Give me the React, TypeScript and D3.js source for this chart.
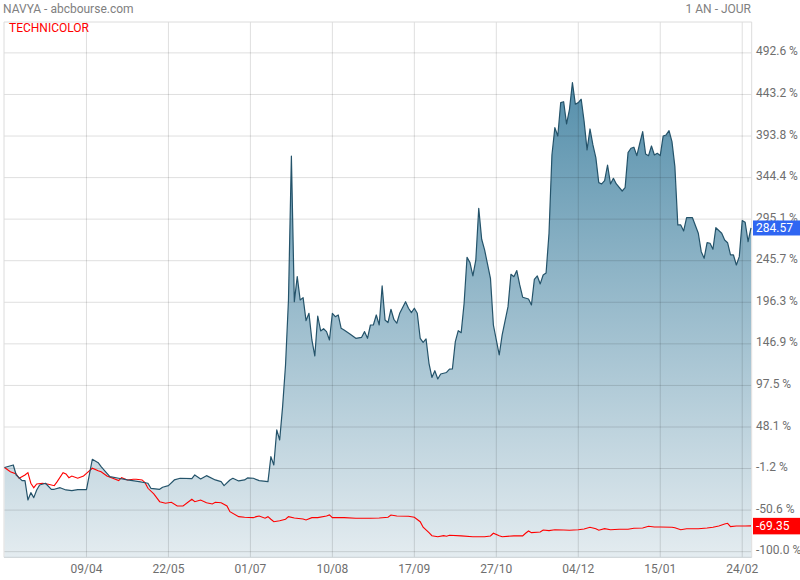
import React from "react";
import * as d3 from "d3";

// ---- DATA (trading-day index, % change) ----
const navyaDay = [0,3,4,6,7,8,9,10,11,12,14,16,17,19,21,23,25,28,30,32,33,35,36,39,42,46,49,50,53,54,56,58,60,64,65,67,69,72,74,75,77,78,80,82,83,85,87,90,91,92,93,94,95,96,97,98,99,100,101,102,103,104,105,106,107,108,109,110,111,112,113,114,115,116,118,120,122,123,124,125,126,127,128,129,130,131,132,133,134,135,137,138,139,140,141,142,143,144,145,146,147,148,149,151,152,153,154,155,156,157,158,159,160,161,162,163,164,166,167,169,170,172,173,174,175,176,177,179,180,181,182,183,184,185,186,187,188,189,190,191,192,193,194,195,196,197,198,199,200,201,202,203,204,205,206,207,208,209,211,212,213,214,215,216,217,218,219,220,221,222,223,224,225,226,227,228,229,230,231,232,233,235,237,238,239,240,241,242,243,245,246,247,248,249,250,251,252,253,254,255];
const navyaPct = [0,3.0,-8.9,-15.6,-15.6,-38.6,-29.9,-35.8,-26.7,-20.8,-18.7,-25.9,-25.9,-24.0,-26.7,-27.5,-26.3,-26.3,9.8,5.7,1.0,-6.9,-10.9,-12.8,-14.8,-16.8,-18.7,-24.7,-25.9,-23.5,-21.6,-14.8,-12.8,-13.3,-8.9,-13.6,-9.7,-14.8,-16.8,-21.6,-14.8,-12.8,-16.0,-14.8,-12.4,-12.8,-15.6,-16.8,12.9,3.0,44.6,32.7,72.3,121.8,199.0,370.1,197.0,226.7,199.0,201.8,174.5,183.2,151.5,132.5,180.0,162.2,164.9,161.4,151.5,183.2,179.2,181.2,165.4,163.4,158.7,153.5,154.7,161.4,153.5,169.3,169.3,181.2,169.3,215.7,175.3,172.1,188.0,176.1,171.4,183.2,197.0,189.2,184.0,189.2,183.2,153.5,148.6,152.7,123.8,107.0,115.0,105.2,111.1,112.9,116.8,117.0,149.5,162.6,160.2,195.1,249.8,243.4,227.6,246.6,308.0,271.2,258.5,224.8,169.3,133.7,157.5,191.1,229.6,226.7,233.9,216.9,202.3,200.2,193.1,223.6,227.6,218.1,228.7,231.1,278.3,371.3,403.8,393.9,433.5,434.6,408.2,425.6,457.2,431.6,433.5,437.5,410.9,377.3,402.2,383.2,368.1,338.4,336.9,340.8,359.4,336.9,343.6,336.9,328.5,332.5,374.1,379.3,380.5,370.5,385.2,399.0,372.5,370.5,382.0,371.3,373.3,370.5,393.9,395.1,400.2,387.1,357.4,288.2,288.2,281.0,296.8,296.8,278.3,256.4,248.6,267.1,266.4,259.3,284.9,278.3,270.3,267.1,252.5,252.5,240.6,250.5,293.3,291.4,268.3,284.57];

const techDay = [0,2,4,5,7,8,9,10,11,13,15,17,18,20,21,22,23,25,27,28,30,32,33,35,37,39,40,42,44,45,47,48,49,51,53,55,57,59,61,64,65,67,69,71,72,74,76,77,80,82,85,86,87,89,90,91,92,94,96,97,99,102,103,105,107,110,111,112,116,120,125,128,131,132,134,138,140,142,143,145,146,148,150,151,152,156,160,164,166,167,169,170,174,177,178,179,180,182,183,184,186,188,191,193,196,198,200,202,203,205,207,210,213,215,218,220,222,224,228,229,231,233,237,240,242,244,246,247,248,250,253,255];
const techPct = [0,-5.0,-7.7,-12.8,-8.9,-6.1,-18.7,-24.0,-19.6,-18.7,-19.9,-21.6,-16.8,-6.1,-7.7,-12.1,-10.1,-12.8,-10.1,-6.9,-0.9,-3.8,-5.0,-10.1,-12.8,-15.6,-12.1,-14.8,-14.0,-14.0,-14.8,-18.0,-24.7,-31.4,-40.6,-42.5,-41.3,-45.7,-45.7,-37.7,-40.6,-38.6,-41.8,-43.3,-41.3,-41.8,-45.7,-52.5,-58.4,-59.1,-59.6,-58.4,-57.6,-60.3,-58.4,-61.5,-64.4,-63.2,-61.5,-58.4,-60.0,-61.1,-62.3,-59.6,-59.6,-57.6,-56.4,-59.6,-59.6,-60.3,-60.3,-60.0,-59.1,-56.4,-57.6,-57.9,-59.1,-64.4,-71.0,-77.4,-81.0,-82.2,-81.0,-81.7,-80.5,-81.3,-82.2,-82.2,-81.3,-78.1,-81.0,-82.2,-81.3,-81.3,-78.1,-75.4,-77.4,-76.9,-76.6,-74.2,-75.0,-73.9,-74.2,-74.6,-73.9,-73.0,-71.0,-72.7,-74.6,-72.7,-73.9,-73.4,-73.4,-72.2,-71.8,-69.8,-70.7,-70.7,-71.0,-71.5,-73.9,-72.7,-72.7,-71.8,-71.0,-69.5,-67.1,-66.3,-70.3,-69.5,-69.5,-69.35];

const xTickDays = [28, 56, 84, 112, 140, 168, 196, 224, 252];
const xTickLabels = ["09/04", "22/05", "01/07", "10/08", "17/09", "27/10", "04/12", "15/01", "24/02"];
const yTicks = [492.6, 443.2, 393.8, 344.4, 295.1, 245.7, 196.3, 146.9, 97.5, 48.1, -1.2, -50.6, -100.0];

const title = "NAVYA - abcbourse.com";
const period = "1 AN - JOUR";
const compareName = "TECHNICOLOR";
const lastNavya = 284.57;
const lastTech = -69.35;

export default function App() {
  const W = 800, H = 580;
  const left = 4, right = 751.7, top = 22, bottom = 557.3;
  const x = d3.scaleLinear().domain([0, 255]).range([4.5, 751]);
  const y = d3.scaleLinear().domain([-106.7, 529.3]).range([bottom, top]);

  const navya = navyaDay.map((d, i) => [d, navyaPct[i]] as [number, number]);
  const tech = techDay.map((d, i) => [d, techPct[i]] as [number, number]);

  const area = d3.area<[number, number]>()
    .x((d) => x(d[0]))
    .y0(bottom)
    .y1((d) => y(d[1]));
  const line = d3.line<[number, number]>()
    .x((d) => x(d[0]))
    .y((d) => y(d[1]));

  const font = "Roboto, 'Open Sans', sans-serif";
  const grid = "rgba(0,0,0,0.13)";

  return (
    <svg width={W} height={H} style={{ position: "absolute", left: 0, top: 0, background: "#fff" }} fontFamily={font}>
      <defs>
        <linearGradient id="areaGrad" gradientUnits="userSpaceOnUse" x1="0" y1="60" x2="0" y2={bottom}>
          <stop offset="0%" stopColor="#4f8ba8" />
          <stop offset="100%" stopColor="#e4ecf0" />
        </linearGradient>
      </defs>

      <text x={3} y={13} fontSize={12} fill="#808080">{title}</text>
      <text x={751} y={13} fontSize={12} fill="#808080" textAnchor="end">{period}</text>

      <path d={area(navya) || ""} fill="url(#areaGrad)" />

      {yTicks.map((t) => (
        <line key={"gy" + t} x1={left} x2={right} y1={y(t)} y2={y(t)} stroke={grid} strokeWidth={1} />
      ))}
      {xTickDays.map((d) => (
        <line key={"gx" + d} x1={x(d)} x2={x(d)} y1={top} y2={bottom} stroke={grid} strokeWidth={1} />
      ))}
      <line x1={left} x2={right} y1={top} y2={top} stroke="#dcdcdc" />
      <line x1={left} x2={left} y1={top} y2={bottom} stroke="#dcdcdc" />
      <line x1={right} x2={right} y1={top} y2={bottom} stroke="#dcdcdc" />
      <line x1={left} x2={right} y1={bottom} y2={bottom} stroke="#c8d0d4" />

      <text x={9} y={32} fontSize={12} fill="#ff0000">{compareName}</text>

      <path d={line(tech) || ""} fill="none" stroke="#ff0000" strokeWidth={1.1} />
      <path d={line(navya) || ""} fill="none" stroke="#24536a" strokeWidth={1.2} strokeLinejoin="round" />

      {yTicks.map((t) => (
        <text key={"ty" + t} x={756} y={y(t) + 2.5} fontSize={12} fill="#6e6e6e">{t.toFixed(1) + " %"}</text>
      ))}
      {xTickDays.map((d, i) => (
        <text key={"tx" + d} x={x(d)} y={572.5} fontSize={12} fill="#6e6e6e" textAnchor="middle">{xTickLabels[i]}</text>
      ))}

      <rect x={753} y={y(lastNavya) - 7.5} width={47} height={15} fill="#2f66f2" />
      <text x={756} y={y(lastNavya) + 4.5} fontSize={12} fill="#fff">{lastNavya.toFixed(2)}</text>
      <rect x={753} y={y(lastTech) - 8} width={47} height={16.5} fill="#ff0000" />
      <text x={756} y={y(lastTech) + 4.5} fontSize={12} fill="#fff">{lastTech.toFixed(2)}</text>
    </svg>
  );
}
